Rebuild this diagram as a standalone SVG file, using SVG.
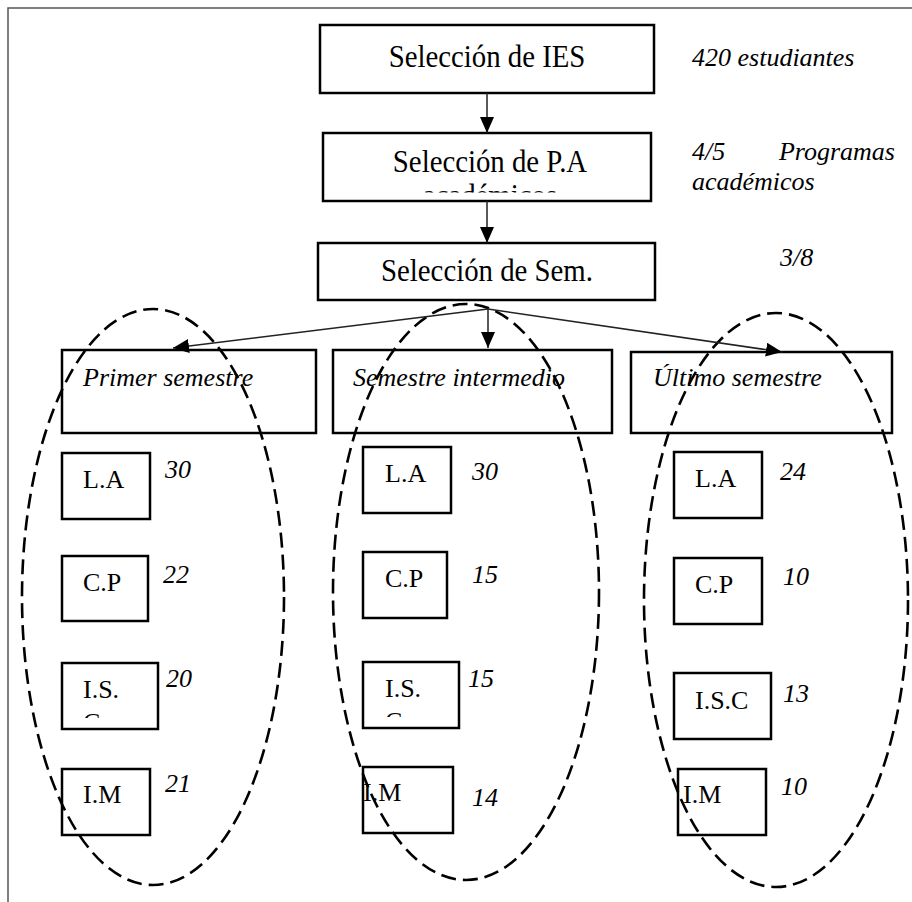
<svg xmlns="http://www.w3.org/2000/svg" width="912" height="902" viewBox="0 0 912 902">
<style>
.box{fill:#fff;stroke:#000;stroke-width:2.5}
.t{font-family:"Liberation Serif",serif;fill:#000}
.title{font-size:32px}
.lbl{font-size:26px}
.it{font-family:"Liberation Serif",serif;font-style:italic;font-size:26px;fill:#000}
.ell{fill:none;stroke:#000;stroke-width:2.6;stroke-dasharray:15 7}
.con{stroke:#222;stroke-width:1.5;fill:none;marker-end:url(#ah)}
</style>
<defs>
<marker id="ah" markerUnits="userSpaceOnUse" markerWidth="16" markerHeight="14" refX="16" refY="7" orient="auto">
<path d="M0,0 L16,7 L0,14 z" fill="#000"/>
</marker>
<clipPath id="c2"><rect x="323" y="133" width="328" height="59.5"/></clipPath>
<clipPath id="c1is"><rect x="62" y="663" width="96" height="55"/></clipPath>
<clipPath id="c2is"><rect x="363" y="662" width="96" height="55"/></clipPath>
</defs>
<rect width="912" height="902" fill="#fff"/>
<path d="M8,902 V8 H912" fill="none" stroke="#555" stroke-width="1.5"/>

<g id="n-ies">
<rect class="box" x="320" y="25" width="334" height="68"/>
<text class="t title" transform="translate(487,0) scale(0.9,1)" x="0" y="67" text-anchor="middle">Selección de IES</text>
</g>
<g id="n-pa">
<rect class="box" x="323" y="133" width="328" height="68"/>
<g clip-path="url(#c2)">
<text class="t title" transform="translate(490,0) scale(0.9,1)" x="0" y="172" text-anchor="middle">Selección de P.A</text>
<text class="t title" transform="translate(490,0) scale(0.9,1)" x="0" y="206" text-anchor="middle">académicos</text>
</g>
</g>
<g id="n-sem">
<rect class="box" x="318" y="243" width="337" height="57"/>
<text class="t title" transform="translate(487,0) scale(0.9,1)" x="0" y="281" text-anchor="middle">Selección de Sem.</text>
</g>

<g id="ann">
<text class="it" x="692" y="66">420 estudiantes</text>
<text class="it" x="692" y="160">4/5</text>
<text class="it" x="895" y="160" text-anchor="end">Programas</text>
<text class="it" x="692" y="190">académicos</text>
<text class="it" x="780" y="266">3/8</text>
</g>

<g id="n-primer">
<rect class="box" x="62" y="350" width="254" height="83"/>
<text class="it" x="83" y="386">Primer semestre</text>
</g>
<g id="n-inter">
<rect class="box" x="333" y="350" width="279" height="83"/>
<text class="it" x="353" y="386">Semestre intermedio</text>
</g>
<g id="n-ultimo">
<rect class="box" x="631" y="352" width="261" height="81"/>
<text class="it" x="653" y="386">Último semestre</text>
</g>

<g id="c1-la"><rect class="box" x="62" y="453" width="88" height="66"/><text class="t lbl" x="83" y="488">L.A</text><text class="it" x="165" y="478">30</text></g>
<g id="c1-cp"><rect class="box" x="62" y="556" width="86" height="65"/><text class="t lbl" x="83" y="591">C.P</text><text class="it" x="163" y="583">22</text></g>
<g id="c1-is"><rect class="box" x="62" y="663" width="96" height="66"/><g clip-path="url(#c1is)"><text class="t lbl" x="83" y="698">I.S.</text><text class="t lbl" x="83" y="731">C</text></g><text class="it" x="166" y="687">20</text></g>
<g id="c1-im"><rect class="box" x="62" y="769" width="88" height="66"/><text class="t lbl" x="83" y="803">I.M</text><text class="it" x="165" y="792">21</text></g>

<g id="c2-la"><rect class="box" x="363" y="447" width="88" height="66"/><text class="t lbl" x="385" y="482">L.A</text><text class="it" x="472" y="480">30</text></g>
<g id="c2-cp"><rect class="box" x="363" y="552" width="84" height="66"/><text class="t lbl" x="385" y="587">C.P</text><text class="it" x="472" y="583">15</text></g>
<g id="c2-is"><rect class="box" x="363" y="662" width="96" height="66"/><g clip-path="url(#c2is)"><text class="t lbl" x="385" y="697">I.S.</text><text class="t lbl" x="385" y="730">C</text></g><text class="it" x="468" y="687">15</text></g>
<g id="c2-im"><rect class="box" x="363" y="767" width="90" height="66"/><text class="t lbl" x="363" y="801">I.M</text><text class="it" x="472" y="806">14</text></g>

<g id="c3-la"><rect class="box" x="674" y="452" width="88" height="66"/><text class="t lbl" x="695" y="487">L.A</text><text class="it" x="780" y="480">24</text></g>
<g id="c3-cp"><rect class="box" x="674" y="558" width="88" height="66"/><text class="t lbl" x="695" y="593">C.P</text><text class="it" x="783" y="585">10</text></g>
<g id="c3-isc"><rect class="box" x="674" y="673" width="97" height="66"/><text class="t lbl" x="695" y="709">I.S.C</text><text class="it" x="783" y="702">13</text></g>
<g id="c3-im"><rect class="box" x="678" y="769" width="88" height="66"/><text class="t lbl" x="683" y="803">I.M</text><text class="it" x="781" y="795">10</text></g>

<g id="groups">
<ellipse class="ell" cx="153" cy="597" rx="131" ry="288"/>
<ellipse class="ell" cx="466" cy="592" rx="133" ry="288"/>
<ellipse class="ell" cx="776" cy="600" rx="132" ry="287"/>
</g>

<g id="connectors">
<line class="con" x1="487" y1="93" x2="487" y2="133"/>
<line class="con" x1="487" y1="201" x2="487" y2="243"/>
<line class="con" x1="488" y1="309" x2="488" y2="348"/>
<line class="con" x1="488" y1="309" x2="173" y2="348"/>
<line class="con" x1="488" y1="309" x2="782" y2="352"/>
</g>
</svg>
